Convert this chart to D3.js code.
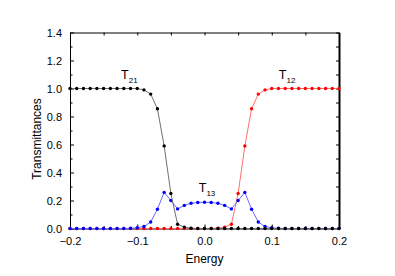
<!DOCTYPE html>
<html>
<head>
<meta charset="utf-8">
<script src="https://cdn.jsdelivr.net/npm/d3@7"></script>
<style>
  body { margin: 0; background: #fff; }
  svg { display: block; font-family: Arial, "Liberation Sans", sans-serif; }
  .axis text { font-size: 11px; fill: #000; }
  .axis path, .axis line { stroke: #000; }
</style>
</head>
<body>
<div id="plot"></div>
<script>
// set svg dimensions
const svgWidth = 395;
const svgHeight = 276;

// energy grid (x values)
const energy = [-0.20, -0.19, -0.18, -0.17, -0.16, -0.15, -0.14, -0.13, -0.12, -0.11,
                -0.10, -0.09, -0.08, -0.07, -0.06, -0.05, -0.04, -0.03, -0.02, -0.01,
                 0.00,  0.01,  0.02,  0.03,  0.04,  0.05,  0.06,  0.07,  0.08,  0.09,
                 0.10,  0.11,  0.12,  0.13,  0.14,  0.15,  0.16,  0.17,  0.18,  0.19, 0.20];

// transmittances
const t21 = [1, 1, 1, 1, 1, 1, 1, 1, 1, 1,
             1, 0.99, 0.96, 0.855, 0.59, 0.25, 0.03, 0.01, 0.002, 0,
             0, 0, 0, 0, 0, 0, 0, 0, 0, 0,
             0, 0, 0, 0, 0, 0, 0, 0, 0, 0, 0];
const t12 = [0, 0, 0, 0, 0, 0, 0, 0, 0, 0,
             0, 0, 0, 0, 0, 0, 0, 0, 0, 0,
             0, 0, 0.002, 0.01, 0.03, 0.25, 0.59, 0.855, 0.96, 0.99,
             1, 1, 1, 1, 1, 1, 1, 1, 1, 1, 1];
const t13 = [0, 0, 0, 0, 0, 0, 0, 0, 0, 0.002,
             0.005, 0.014, 0.046, 0.138, 0.258, 0.2, 0.14, 0.165, 0.18, 0.186,
             0.187, 0.186, 0.18, 0.165, 0.14, 0.2, 0.258, 0.138, 0.046, 0.014,
             0.005, 0.002, 0, 0, 0, 0, 0, 0, 0, 0, 0];

const xTicks = [-0.2, -0.1, 0.0, 0.1, 0.2];
const yTicks = [0.0, 0.2, 0.4, 0.6, 0.8, 1.0, 1.2, 1.4];

// drawing order: red, blue, black
const series = [
  {name: "T12", values: t12, line: "#ff7070", dot: "#ff0000"},
  {name: "T13", values: t13, line: "#6b6bff", dot: "#0000ff"},
  {name: "T21", values: t21, line: "#707070", dot: "#000000"}
];

let svg = d3.select("#plot")
  .append("svg")
  .attr("width", svgWidth)
  .attr("height", svgHeight);

var x = d3.scaleLinear()
  .domain([-0.2, 0.2])
  .range([70, 339]);

var y = d3.scaleLinear()
  .domain([0, 1.4])
  .range([228.5, 32.5]);

// minor ticks first
svg.append("g")
  .attr("class", "axis")
  .attr("transform", "translate(0," + y(0) + ")")
  .call(d3.axisBottom(x).tickValues(d3.range(-0.15, 0.2, 0.1)).tickSize(-2.5).tickSizeOuter(0).tickFormat(""))
  .select(".domain").remove();

svg.append("g")
  .attr("class", "axis")
  .attr("transform", "translate(" + x(-0.2) + ",0)")
  .call(d3.axisLeft(y).tickValues(d3.range(0.1, 1.4, 0.2)).tickSize(-2.5).tickSizeOuter(0).tickFormat(""))
  .select(".domain").remove();

// top and right mirror ticks
svg.append("g")
  .attr("class", "axis")
  .attr("transform", "translate(0," + y(1.4) + ")")
  .call(d3.axisTop(x).tickValues(d3.range(-0.2, 0.21, 0.05)).tickSize(-3).tickSizeOuter(0).tickFormat(""));

svg.append("g")
  .attr("class", "axis")
  .attr("transform", "translate(" + x(0.2) + ",0)")
  .call(d3.axisRight(y).tickValues(d3.range(0.1, 1.45, 0.1)).tickSize(-3).tickSizeOuter(0).tickFormat(""))
  .select(".domain").attr("stroke", "#888").attr("stroke-width", 2);

// X axis
svg.append("g")
  .attr("class", "axis")
  .attr("transform", "translate(0," + y(0) + ")")
  .call(d3.axisBottom(x).tickValues(xTicks).tickSize(-4).tickSizeOuter(0).tickPadding(9)
    .tickFormat(d3.format(".1f")));

// Y axis
svg.append("g")
  .attr("class", "axis")
  .attr("transform", "translate(" + x(-0.2) + ",0)")
  .call(d3.axisLeft(y).tickValues(yTicks).tickSize(-4).tickSizeOuter(0).tickPadding(8)
    .tickFormat(d3.format(".1f")));

// axis titles
svg.append("text")
  .attr("x", (x(-0.2) + x(0.2)) / 2)
  .attr("y", 263)
  .attr("text-anchor", "middle")
  .attr("font-size", 12)
  .text("Energy");

svg.append("text")
  .attr("transform", "translate(41,139) rotate(-90)")
  .attr("text-anchor", "middle")
  .attr("font-size", 12)
  .text("Transmittances");

// lines and dots
let line = d3.line()
  .x(function(d, i) { return x(energy[i]); })
  .y(function(d) { return y(d); });

series.forEach(function(s) {
  svg.append("path")
    .datum(s.values)
    .attr("fill", "none")
    .attr("stroke", s.line)
    .attr("stroke-width", 1)
    .attr("d", line);

  svg.append("g")
    .selectAll("circle")
    .data(s.values)
    .enter()
    .append("circle")
    .attr("cx", function(d, i) { return x(energy[i]); })
    .attr("cy", function(d) { return y(d); })
    .attr("r", 1.7)
    .attr("fill", s.dot);
});

// curve labels
const labels = [
  {main: "T", sub: "21", xv: -0.124, yv: 1.07},
  {main: "T", sub: "12", xv: 0.1105, yv: 1.07},
  {main: "T", sub: "13", xv: -0.0085, yv: 0.26}
];
labels.forEach(function(l) {
  let t = svg.append("text")
    .attr("x", x(l.xv))
    .attr("y", y(l.yv))
    .attr("font-size", 12.5);
  t.append("tspan").text(l.main);
  t.append("tspan").attr("font-size", 8).attr("dy", 4).text(l.sub);
});
</script>
</body>
</html>
